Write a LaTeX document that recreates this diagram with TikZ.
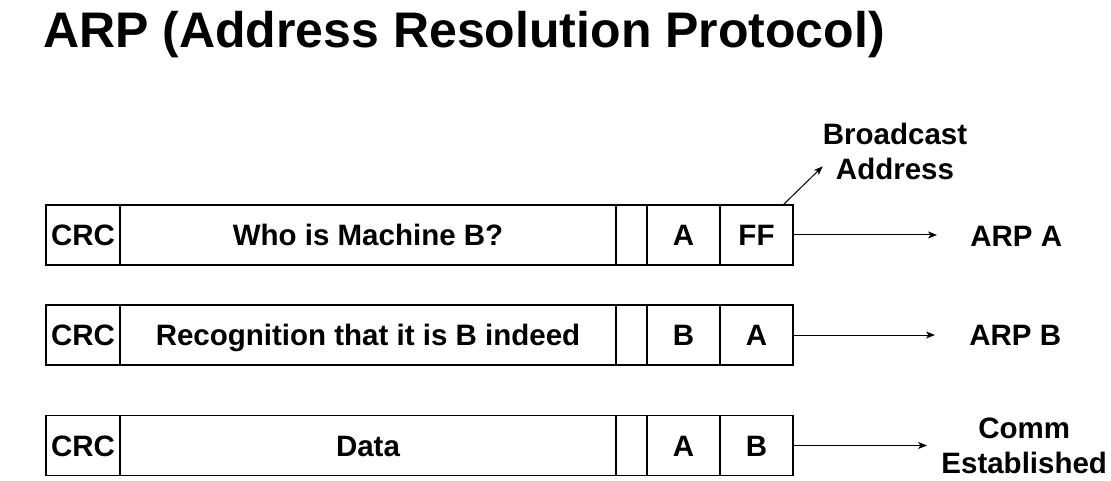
\documentclass[tikz,border=0pt]{standalone}
\usepackage{fontspec}
\setmainfont{Liberation Sans}
\usetikzlibrary{positioning,arrows.meta}

\begin{document}
\begin{tikzpicture}[x=1pt,y=-1pt,
    cell/.style={draw, line width=1.2pt, outer sep=0pt, inner sep=0pt, minimum height=60pt, text height=21pt, text depth=0pt, font=\bfseries\fontsize{29.5}{35}\selectfont},
    lab/.style={inner sep=0pt, align=center, font=\bfseries\fontsize{29.5}{35}\selectfont},
    arr/.style={-{Stealth[length=9pt,width=7pt,inset=2.5pt]}, line width=1pt}]
\useasboundingbox (0,0) rectangle (1111,481);
\node[anchor=base west, inner sep=0pt, font=\bfseries\fontsize{50}{58}\selectfont] (title) at (43,48) {ARP (Address Resolution Protocol)};

% ARP request
\node[cell, minimum width=74pt] (crcA) at (83,235) {CRC};
\node[cell, minimum width=496pt, right=0pt of crcA] (msgA) {Who is Machine B?};
\node[cell, minimum width=31pt, right=0pt of msgA] (padA) {};
\node[cell, minimum width=73pt, right=0pt of padA] (srcA) {A};
\node[cell, minimum width=73pt, right=0pt of srcA] (dstA) {FF};
\node[lab, minimum width=158pt, anchor=west] (arpA) at (937,236) {ARP A};
\node[lab] (bcast) at (895,151) {Broadcast\\Address};
\draw[arr] (dstA.east) -- (dstA.east -| arpA.west);
\draw[arr] ([xshift=26.5pt]dstA.north) -- (bcast.192);

% ARP reply
\node[cell, minimum width=74pt] (crcB) at (83,335) {CRC};
\node[cell, minimum width=496pt, right=0pt of crcB] (msgB) {Recognition that it is B indeed};
\node[cell, minimum width=31pt, right=0pt of msgB] (padB) {};
\node[cell, minimum width=73pt, right=0pt of padB] (srcB) {B};
\node[cell, minimum width=73pt, right=0pt of srcB] (dstB) {A};
\node[lab, minimum width=160pt, anchor=west] (arpB) at (935,335) {ARP B};
\draw[arr] (dstB.east) -- (dstB.east -| arpB.west);

% data frame
\node[cell, minimum width=74pt] (crcC) at (83,445.5) {CRC};
\node[cell, minimum width=496pt, right=0pt of crcC] (msgC) {Data};
\node[cell, minimum width=31pt, right=0pt of msgC] (padC) {};
\node[cell, minimum width=73pt, right=0pt of padC] (srcC) {A};
\node[cell, minimum width=73pt, right=0pt of srcC] (dstC) {B};
\node[lab, minimum width=194pt, anchor=west] (comm) at (927,445.5) {Comm\\Established};
\draw[arr] (dstC.east) -- (comm.west);
\end{tikzpicture}
\end{document}
